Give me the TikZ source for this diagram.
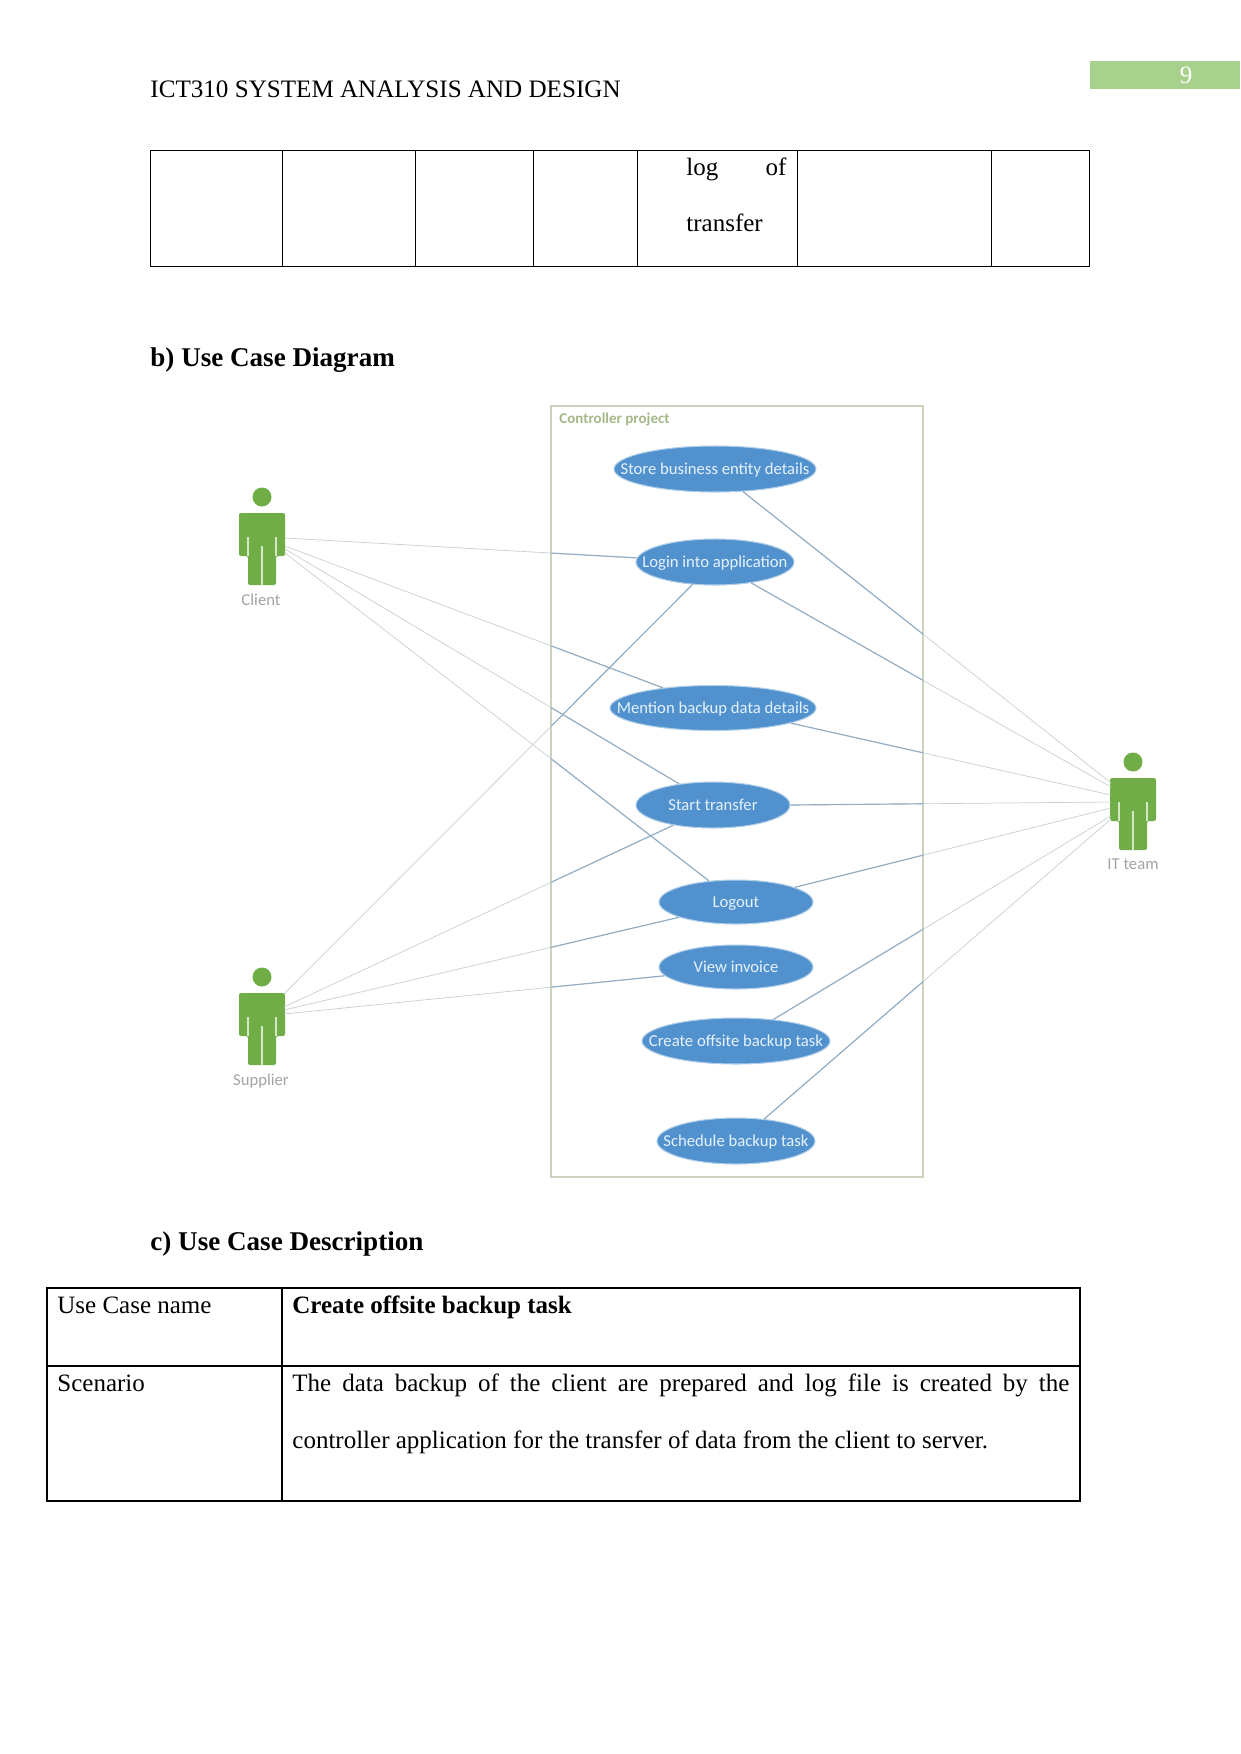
\documentclass[tikz,border=0pt]{standalone}
\usepackage{fontspec}
\setmainfont{Liberation Serif}
\newfontfamily\diagfont{Carlito}
\usetikzlibrary{shapes.geometric}
\definecolor{usecase}{HTML}{5192CE}
\definecolor{usecasetext}{HTML}{E6F2FC}
\definecolor{actorgreen}{HTML}{70AD47}
\definecolor{tabgreen}{HTML}{A9D18E}
\definecolor{framecol}{HTML}{CBD3BF}
\definecolor{titlegreen}{HTML}{A4B887}
\definecolor{linkin}{HTML}{93AEC4}
\definecolor{linkout}{HTML}{C9CFD4}
\definecolor{actorlabel}{HTML}{A3A3A3}
\newlength{\pxu}\setlength{\pxu}{0.48pt}
\newcommand{\pagefont}{\fontsize{12}{14}\selectfont}
\newcommand{\headfont}{\fontsize{13}{15}\selectfont\bfseries}
% use case captions take no width, so the ellipse keeps its stated size
\newcommand{\uclabel}[1]{\makebox[0pt]{#1}}
\tikzset{
  x=\pxu, y=-\pxu,
  usecasenode/.style={ellipse, fill=usecase, draw=usecase!45, line width=0.5pt, inner sep=0pt,
    text=usecasetext, text height=7pt, text depth=1.6pt, font=\diagfont\fontsize{8}{9}\selectfont},
  pagetext/.style={anchor=base west, inner sep=0pt, font=\pagefont},
  headtext/.style={anchor=base west, inner sep=0pt, font=\headfont},
  actorname/.style={inner sep=0pt, text=actorlabel, font=\diagfont\fontsize{8}{9}\selectfont},
  tablerule/.style={draw=black, line width=0.4pt},
  tablebold/.style={draw=black, line width=0.9pt},
  actor/.pic={
    \fill[actorgreen] (0,0) circle[radius=9.5];
    \fill[actorgreen, rounded corners=1pt] (-23,16) -- (23,16) -- (23,59) -- (14,59) -- (14,88)
      -- (-14,88) -- (-14,59) -- (-23,59) -- cycle;
    \draw[white!70!actorgreen, line width=0.5pt] (-14,40) -- (-14,59) (14,40) -- (14,59) (0,49) -- (0,88);
  },
}
\begin{document}
\begin{tikzpicture}
\useasboundingbox (0,0) rectangle (1241,1754);

% running header and page number tab
\node[pagetext, font=\fontsize{12.05}{14}\selectfont] (header) at (150,97) {ICT310 SYSTEM ANALYSIS AND DESIGN};
\fill[tabgreen] (1090,61) rectangle (1240,89);
\node[inner sep=0pt, text=white, font=\fontsize{12}{14}\selectfont] (pageno) at (1186,75) {9};

% tail of the table carried over from the previous page
\draw[tablerule] (150,150) rectangle (1089,266);
\foreach \cx in {282,415,533,637,797,991} \draw[tablerule] (\cx,150) -- (\cx,266);
\node[pagetext] (logof) at (686,175) {\makebox[100\pxu][s]{log of}};
\node[pagetext] (transfer) at (686,231) {transfer};

% section headings
\node[headtext] (headb) at (150,366) {b) Use Case Diagram};
\node[headtext] (headc) at (150,1250) {c) Use Case Description};

% system boundary
\draw[framecol, line width=0.5pt, fill=white] (551,406) rectangle (923,1177);
\node[anchor=base west, inner sep=0pt, text=titlegreen, font=\diagfont\bfseries\fontsize{7.2}{8}\selectfont] (system) at (559,423) {Controller project};

% use cases
\node[usecasenode, minimum width=202\pxu, minimum height=46\pxu] (store)    at (715,469)  {\uclabel{Store business entity details}};
\node[usecasenode, minimum width=158\pxu, minimum height=46\pxu] (login)    at (715,562)  {\uclabel{Login into application}};
\node[usecasenode, minimum width=206\pxu, minimum height=45\pxu] (mention)  at (713,708)  {\uclabel{Mention backup data details}};
\node[usecasenode, minimum width=154\pxu, minimum height=46\pxu] (start)    at (713,805)  {\uclabel{Start transfer}};
\node[usecasenode, minimum width=154\pxu, minimum height=44\pxu] (logout)   at (736,902)  {\uclabel{Logout}};
\node[usecasenode, minimum width=154\pxu, minimum height=44\pxu] (viewinv)  at (736,967)  {\uclabel{View invoice}};
\node[usecasenode, minimum width=188\pxu, minimum height=46\pxu] (create)   at (736,1041) {\uclabel{Create offsite backup task}};
\node[usecasenode, minimum width=158\pxu, minimum height=46\pxu] (schedule) at (736,1141) {\uclabel{Schedule backup task}};

% actors
\pic at (262,497) {actor};
\pic at (262,977) {actor};
\pic at (1133,762) {actor};
\node[actorname] (clientname)   at (261,600)  {Client};
\node[actorname] (suppliername) at (261,1081) {Supplier};
\node[actorname] (itname)       at (1133,864) {IT team};

% attachment points on the actors
\coordinate (ca) at (285,538);
\coordinate (cb) at (285,546);
\coordinate (cc) at (285,549);
\coordinate (cd) at (285,553);
\coordinate (sa) at (284,994);
\coordinate (sb) at (284,1007);
\coordinate (sc) at (284,1010);
\coordinate (sd) at (284,1014);
\coordinate (ia) at (1111,783);
\coordinate (ib) at (1111,787);
\coordinate (ic) at (1111,795);
\coordinate (id) at (1111,802);
\coordinate (ie) at (1111,808);
\coordinate (if) at (1111,816);
\coordinate (ig) at (1111,819);

% associations: faint outside the boundary, stronger inside it
\newcommand{\associations}[1]{%
  \foreach \fromc/\toc in {ca/login.177, cb/mention.158, cc/start.148, cd/logout.142,
      sa/login.225, sb/start.207, sc/logout.195, sd/viewinv.187,
      ia/store.-39, ib/login.-30, ic/mention.-11.6, id/start.0, ie/logout.14, if/create.30, ig/schedule.38}
    \draw[#1] (\fromc) -- (\toc);}
\associations{linkout, line width=0.35pt}
\begin{scope}
  \clip (551,406) rectangle (923,1177);
  \associations{linkin, line width=0.55pt}
\end{scope}

% use case description table
\draw[tablebold] (47,1288) rectangle (1080,1501);
\draw[tablebold] (282,1288) -- (282,1501);
\draw[tablebold] (47,1366) -- (1080,1366);
\node[pagetext] (ucname) at (57,1313) {Use Case name};
\node[pagetext, font=\pagefont\bfseries] (ucvalue) at (292,1313) {Create offsite backup task};
\node[pagetext] (scen) at (57,1391) {Scenario};
\node[pagetext] (scenone) at (292,1391) {\makebox[777\pxu][s]{The data backup of the client are prepared and log file is created by the}};
\node[pagetext] (scentwo) at (292,1448) {controller application for the transfer of data from the client to server.};
\end{tikzpicture}
\end{document}
